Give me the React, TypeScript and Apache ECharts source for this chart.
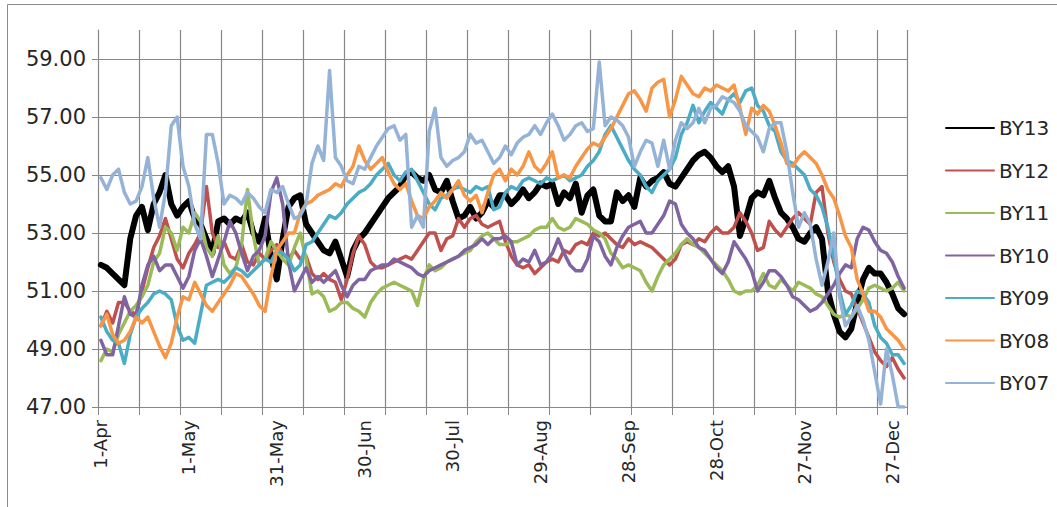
import React, { useEffect, useRef } from "react";
import * as echarts from "echarts";

// Category axis: one point every 2 days from 1-Apr (138 points)
const MONTHS = ["Jan", "Feb", "Mar", "Apr", "May", "Jun", "Jul", "Aug", "Sep", "Oct", "Nov", "Dec"];
const POINT_COUNT = 138;
const categories: string[] = [];
for (let k = 0; k < POINT_COUNT; k++) {
  const d = new Date(2013, 3, 1 + 2 * k);
  categories.push(`${d.getDate()}-${MONTHS[d.getMonth()]}`);
}

const seriesNames = ["BY13", "BY12", "BY11", "BY10", "BY09", "BY08", "BY07"];
const seriesColors = ["#000000", "#C0504D", "#9BBB59", "#8064A2", "#4BACC6", "#F79646", "#95B3D7"];
const seriesWidths = [6, 3.5, 3.5, 3.5, 3.5, 3.5, 3.5];

const by13 = [
  51.9, 51.8, 51.6, 51.4, 51.2, 52.8, 53.6,
  53.9, 53.1, 54.0, 54.4, 55.0, 54.0, 53.6,
  53.9, 54.1, 53.5, 53.3, 52.8, 52.3, 53.4,
  53.5, 53.3, 53.5, 53.4, 53.7, 53.0, 52.7,
  53.5, 52.2, 51.4, 52.8, 53.9, 54.2, 54.3,
  53.3, 53.0, 52.7, 52.4, 52.3, 52.7, 52.1,
  51.5, 52.4, 52.8, 53.0, 53.3, 53.6, 53.9,
  54.2, 54.4, 54.6, 55.0, 55.1, 54.9, 54.8,
  55.0, 54.5, 54.4, 54.8, 54.1, 53.5, 53.6,
  53.9, 53.5, 53.7, 54.1, 53.9, 54.3, 54.3,
  54.0, 54.2, 54.5, 54.2, 54.4, 54.7, 54.6,
  54.7, 54.0, 54.4, 54.2, 54.7, 53.7, 54.3,
  54.5, 53.6, 53.4, 53.4, 54.4, 54.1, 54.3,
  53.9, 54.9, 54.6, 54.8, 54.9, 55.1, 54.7,
  54.6, 54.9, 55.2, 55.5, 55.7, 55.8, 55.6,
  55.3, 55.1, 55.3, 54.6, 52.9, 53.5, 54.2,
  54.4, 54.3, 54.8, 54.2, 53.7, 53.5, 53.2,
  52.8, 52.7, 53.0, 53.2, 52.8, 51.0, 50.2,
  49.6, 49.4, 49.7, 50.6, 51.4, 51.8, 51.6,
  51.6, 51.3, 50.9, 50.4, 50.2,
];

const by12 = [
  49.8, 50.3, 49.9, 50.6, 50.6, 50.3, 50.2,
  51.0, 51.8, 52.5, 52.9, 53.5, 52.8, 52.1,
  51.8, 52.3, 52.6, 53.0, 54.6, 53.0, 52.5,
  52.7, 52.2, 52.1, 52.6, 52.0, 51.9, 52.3,
  52.1, 52.4, 52.6, 52.3, 52.1, 52.4, 52.1,
  52.2, 51.6, 51.4, 51.6, 51.4, 51.3, 50.7,
  51.4, 52.3, 52.9, 52.6, 52.0, 51.8, 51.8,
  51.9, 52.0, 52.1, 52.2, 52.1, 52.4, 52.7,
  53.0, 53.0, 52.4, 52.8, 52.9, 53.5, 53.2,
  53.5, 53.6, 53.3, 53.2, 53.3, 53.4, 52.7,
  52.2, 51.9, 51.8, 51.9, 51.6, 51.8, 52.0,
  52.1, 52.0, 52.4, 52.3, 52.6, 52.7, 52.6,
  53.0, 52.9, 53.0, 52.8, 52.6, 52.5, 52.8,
  52.6, 52.7, 52.6, 52.5, 52.3, 52.1, 51.9,
  52.1, 52.6, 52.7, 52.6, 52.8, 52.7, 53.0,
  53.2, 53.0, 53.0, 53.2, 53.7, 53.4, 53.0,
  52.4, 52.5, 53.4, 53.1, 52.9, 53.2, 53.5,
  53.7, 53.5, 53.3, 54.4, 54.6, 53.0, 52.0,
  51.4, 51.0, 50.9, 50.4, 49.9, 49.4, 48.9,
  48.6, 48.4, 48.7, 48.3, 48.0,
];

const by11 = [
  48.6, 49.0, 48.9, 49.5, 49.9, 50.3, 50.5,
  50.8, 51.2, 52.0, 52.3, 53.2, 53.0, 52.4,
  53.2, 53.0, 53.7, 53.4, 52.5, 52.2, 52.9,
  51.9, 51.6, 51.8, 52.6, 54.5, 52.9, 51.9,
  52.1, 52.7, 52.4, 52.1, 51.9, 52.5, 53.0,
  52.1, 50.9, 51.0, 50.8, 50.3, 50.4, 50.6,
  50.6, 50.4, 50.3, 50.1, 50.6, 50.9, 51.1,
  51.2, 51.3, 51.2, 51.1, 51.0, 50.5, 51.4,
  51.9, 51.7, 51.8, 52.0, 52.1, 52.2, 52.3,
  52.4, 52.7, 52.9, 53.0, 52.8, 52.6, 52.6,
  52.7, 52.7, 52.8, 52.9, 53.1, 53.2, 53.2,
  53.5, 53.2, 53.1, 53.2, 53.5, 53.4, 53.3,
  53.1, 53.0, 52.8, 52.3, 52.1, 51.8, 51.9,
  51.8, 51.7, 51.3, 51.0, 51.5, 51.9, 52.1,
  52.3, 52.6, 52.8, 52.6, 52.5, 52.3, 52.1,
  51.9, 51.7, 51.4, 51.0, 50.9, 51.0, 51.0,
  51.2, 51.6, 51.2, 51.1, 51.4, 51.2, 51.0,
  51.3, 51.2, 51.1, 50.9, 50.8, 50.5, 50.2,
  50.1, 50.2, 50.1, 50.4, 50.7, 51.1, 51.2,
  51.1, 51.0, 51.1, 51.3, 51.0,
];

const by10 = [
  49.3, 48.8, 48.8, 49.8, 50.8, 50.2, 50.1,
  51.2, 51.9, 52.2, 51.7, 51.9, 51.9, 51.5,
  51.1, 51.5, 52.4, 52.8, 52.2, 51.5, 52.1,
  52.7, 53.4, 53.0, 52.3, 51.7, 52.2, 52.4,
  52.9, 54.4, 54.9, 54.0, 52.0, 51.0, 51.4,
  51.8, 51.3, 51.5, 51.3, 51.5, 51.7, 51.2,
  50.8, 51.2, 51.4, 51.4, 51.7, 51.8, 51.9,
  51.9, 52.1, 52.0, 51.9, 51.8, 51.6, 51.5,
  51.7, 51.8, 51.9, 52.0, 52.1, 52.2, 52.4,
  52.5, 52.6, 52.8, 52.6, 52.8, 52.8, 52.9,
  52.7, 51.9, 52.1, 52.0, 52.4, 51.9, 52.0,
  52.3, 52.8, 52.3, 51.9, 51.7, 51.7, 52.1,
  52.9, 52.7, 52.2, 51.9, 52.5, 52.9, 53.2,
  53.3, 53.4, 53.0, 53.0, 53.3, 53.6, 54.1,
  54.0, 53.3, 53.0, 52.8, 52.5, 52.4, 52.1,
  51.8, 51.6, 52.0, 52.7, 52.4, 52.1, 51.7,
  51.0, 51.3, 51.7, 51.7, 51.5, 51.2, 50.8,
  50.7, 50.5, 50.3, 50.4, 50.6, 50.9, 51.2,
  51.6, 51.9, 51.8, 52.8, 53.2, 53.1, 52.7,
  52.4, 52.3, 52.0, 51.5, 51.1,
];

const by09 = [
  50.1, 49.6, 49.3, 49.2, 48.5, 49.5, 50.1,
  50.4, 50.6, 50.9, 51.0, 50.9, 50.7, 49.8,
  49.3, 49.4, 49.2, 50.2, 51.2, 51.3, 51.4,
  51.3, 51.5, 51.8, 51.7, 51.5, 51.7, 51.9,
  52.1, 52.0, 52.4, 52.3, 52.1, 51.7, 51.9,
  52.6, 52.7, 53.0, 53.3, 53.6, 53.5, 53.7,
  54.0, 54.2, 54.4, 54.5, 54.7, 55.0, 55.2,
  55.4, 55.0, 54.8, 55.1, 55.2, 54.8, 54.4,
  54.0, 53.8, 54.2, 54.3, 54.5, 54.6, 54.5,
  54.4, 54.6, 54.5, 54.6, 53.8, 53.9, 54.4,
  54.6, 54.5, 54.8, 54.9, 54.8, 54.7, 54.9,
  54.8, 54.9, 55.0, 54.8, 54.9, 55.0, 55.3,
  55.5, 55.8, 56.4, 56.7, 56.3, 55.9, 55.5,
  55.2, 55.0, 54.6, 54.4, 54.8, 55.0, 55.2,
  55.6, 56.4, 56.8, 57.4, 56.8, 57.2, 57.5,
  57.3, 57.1, 57.6, 57.8, 57.5, 57.9, 58.0,
  57.4, 57.2, 56.7, 56.5, 55.8, 55.5, 55.4,
  55.2, 55.0, 54.5, 54.3, 53.9, 53.2, 52.2,
  51.0, 50.2, 50.5, 51.0, 50.9, 50.6, 49.8,
  49.4, 49.2, 48.8, 48.8, 48.5,
];

const by08 = [
  49.8, 50.2, 49.5, 49.2, 49.3, 49.6, 50.1,
  49.9, 50.1, 49.6, 49.1, 48.7, 49.2, 50.1,
  50.8, 50.7, 51.3, 50.9, 50.5, 50.3, 50.6,
  50.9, 51.2, 51.6, 51.5, 51.2, 50.9, 50.5,
  50.3, 51.5, 52.4, 52.7, 53.0, 53.0, 53.7,
  54.0, 54.1, 54.3, 54.4, 54.5, 54.7, 54.6,
  55.0, 55.3, 56.0, 55.5, 55.2, 55.4, 55.6,
  55.1, 54.7, 54.5, 54.7, 54.1, 53.6, 53.5,
  53.9, 54.1, 54.4, 54.2, 54.5, 54.8, 54.3,
  54.1, 54.3, 53.7, 54.4, 55.0, 55.2, 54.8,
  55.2, 55.0, 55.3, 55.8, 55.3, 55.1, 55.4,
  55.8, 54.9, 55.0, 54.9, 55.3, 55.6, 55.9,
  56.1, 56.0, 56.3, 56.6, 57.0, 57.4, 57.8,
  57.9, 57.6, 57.2, 58.0, 58.2, 58.3, 57.0,
  57.6, 58.4, 58.1, 57.8, 57.7, 58.0, 57.9,
  58.1, 58.0, 57.9, 58.1, 57.3, 56.4, 57.3,
  57.1, 57.4, 57.2, 56.7, 56.1, 55.4, 55.3,
  55.6, 55.8, 55.6, 55.4, 55.0, 54.5, 54.2,
  53.6, 52.9, 52.5, 51.4, 50.9, 50.3, 50.3,
  50.1, 49.7, 49.5, 49.3, 49.0,
];

const by07 = [
  54.9, 54.5, 55.0, 55.2, 54.4, 54.0, 54.1,
  54.6, 55.6, 54.2, 53.2, 54.4, 56.7, 57.0,
  55.3, 54.6, 53.3, 52.8, 56.4, 56.4, 55.4,
  54.0, 54.3, 54.2, 54.0, 54.4, 54.2, 53.9,
  53.7, 54.5, 54.4, 54.6, 54.0, 53.5, 53.6,
  54.0, 55.4, 56.0, 55.5, 58.6, 55.6, 55.3,
  54.8, 54.7, 55.3, 55.2, 55.6, 56.0, 56.3,
  56.6, 56.7, 56.2, 56.4, 53.2, 53.6, 53.2,
  56.5, 57.3, 55.6, 55.3, 55.5, 55.6, 55.8,
  56.4, 56.1, 56.2, 55.8, 55.4, 55.6, 56.0,
  55.7, 56.1, 56.3, 56.4, 56.7, 56.4, 56.8,
  57.1, 56.7, 56.2, 56.4, 56.7, 56.8, 56.5,
  56.6, 58.9, 56.7, 57.0, 56.9, 56.7, 56.3,
  55.3, 55.8, 56.2, 56.1, 55.3, 56.2, 55.2,
  56.2, 56.8, 56.6, 56.8, 57.3, 56.8, 57.3,
  57.4, 57.7, 57.6, 57.5, 57.2, 56.7, 56.5,
  56.3, 55.8, 56.6, 56.8, 56.8, 55.8, 54.4,
  53.2, 53.7, 53.3, 52.1, 51.2, 52.0, 53.0,
  50.8, 49.8, 50.1, 50.5, 50.0, 49.3, 48.2,
  47.1, 49.0, 48.1, 47.0, 47.0,
];

const seriesData = [by13, by12, by11, by10, by09, by08, by07];

// vertical gridlines / ticks every 7 categories (14 days); labels every 15 categories (30 days)
const GRID_STEP = 7;
const LABEL_STEP = 15;

// y axis settings
const Y_MIN = 47;
const Y_MAX = 60;
const Y_STEP = 2;
const yTickValues = [47, 49, 51, 53, 55, 57, 59];

const GRID_COLOR = "#878787";
const TEXT_COLOR = "#262626";

export default function App() {
  const ref = useRef<HTMLDivElement>(null);

  useEffect(() => {
    if (!ref.current) return;
    const chart = echarts.init(ref.current, null, { renderer: "svg" });

    const dataSeries = seriesNames.map((name, i) => ({
      name,
      type: "line",
      data: seriesData[i],
      symbol: "none",
      smooth: false,
      clip: true,
      z: 3,
      color: seriesColors[i],
      itemStyle: { color: seriesColors[i], opacity: 0 },
      lineStyle: {
        color: seriesColors[i],
        width: seriesWidths[i],
        join: "round",
        cap: "round",
      },
    }));

    const option: any = {
      animation: false,
      backgroundColor: "#ffffff",
      textStyle: { fontFamily: "DejaVu Sans" },
      graphic: [
        {
          type: "rect",
          shape: { x: 7.5, y: 4.5, width: 1070, height: 520 },
          style: { fill: "none", stroke: "#8c8c8c", lineWidth: 1 },
          silent: true,
          z: -10,
        },
      ],
      grid: {
        left: 98,
        right: 150,
        top: 30,
        bottom: 100,
        containLabel: false,
      },
      legend: {
        orient: "vertical",
        left: 940,
        top: 113,
        itemWidth: 48,
        itemHeight: 2,
        itemGap: 22.5,
        data: seriesNames,
        itemStyle: { opacity: 0, borderWidth: 0 },
        textStyle: {
          fontFamily: "DejaVu Sans",
          fontSize: 20,
          lineHeight: 20,
          color: TEXT_COLOR,
        },
      },
      xAxis: {
        type: "category",
        data: categories,
        boundaryGap: true,
        axisLine: { show: true, lineStyle: { color: GRID_COLOR, width: 1 } },
        axisTick: {
          show: true,
          interval: GRID_STEP - 1,
          length: 8,
          lineStyle: { color: GRID_COLOR, width: 1 },
        },
        axisLabel: {
          interval: LABEL_STEP - 1,
          rotate: 90,
          margin: 13,
          fontSize: 18,
          fontFamily: "DejaVu Sans",
          color: TEXT_COLOR,
        },
        splitLine: {
          show: true,
          interval: GRID_STEP - 1,
          lineStyle: { color: GRID_COLOR, width: 1.2, type: "solid", opacity: 1 },
        },
      },
      yAxis: {
        type: "value",
        min: Y_MIN,
        max: Y_MAX,
        interval: Y_STEP,
        axisLine: { show: true, lineStyle: { color: GRID_COLOR, width: 1 } },
        axisTick: {
          show: true,
          length: 6,
          lineStyle: { color: GRID_COLOR, width: 1 },
        },
        axisLabel: {
          margin: 12,
          fontSize: 21,
          fontFamily: "DejaVu Sans",
          color: TEXT_COLOR,
          showMaxLabel: false,
          formatter: (v: number) => (v >= Y_MAX ? "" : v.toFixed(2)),
        },
        splitLine: {
          show: true,
          showMaxLine: false,
          lineStyle: { color: GRID_COLOR, width: 1 },
        },
      },
      series: dataSeries,
    };

    chart.setOption(option);
    return () => chart.dispose();
  }, []);

  return (
    <div
      ref={ref}
      style={{ position: "fixed", left: 0, top: 0, width: 1057, height: 507 }}
    />
  );
}
